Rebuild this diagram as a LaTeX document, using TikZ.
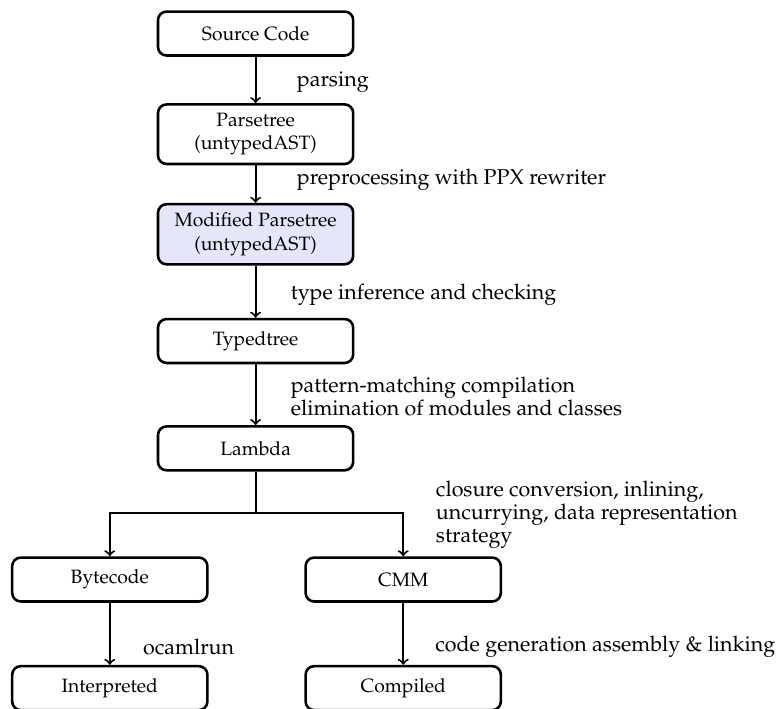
\documentclass[tikz,border=0pt]{standalone}
\usepackage[T1]{fontenc}
\usepackage{mathpazo}
\usepackage{tikz}
\usetikzlibrary{arrows, positioning, calc}
\definecolor{paleblue}{RGB}{230, 230, 250}
\tikzset{
  stage/.style={rectangle, draw=black, fill=#1, rounded corners=4pt, minimum width=3.2cm, minimum height=0.72cm, font=\small, align=center, very thick, inner ysep=4pt},
  stage/.default=white,
  passlabel/.style={anchor=west, align=left, inner sep=0pt, font=\fontsize{10}{10.8}\selectfont},
  trunk/.style={line width=0.9pt},
  flow/.style={->, trunk},
}

\begin{document}
\begin{tikzpicture}
\useasboundingbox (0,0) rectangle (12.77,-11.61);

% Compiler stages
\node[stage] (src) at (4.19,-0.55) {Source Code};
\node[stage] (parse) at (4.19,-2.20) {Parsetree\\(untypedAST)};
\node[stage=paleblue] (mod) at (4.19,-3.84) {Modified Parsetree\\(untypedAST)};
\node[stage] (typed) at (4.19,-5.59) {Typedtree};
\node[stage] (lambda) at (4.19,-7.35) {Lambda};
\node[stage] (byte) at (1.80,-9.50) {Bytecode};
\node[stage] (cmm) at (6.61,-9.50) {CMM};
\node[stage] (interp) at (1.80,-11.28) {Interpreted};
\node[stage] (comp) at (6.61,-11.28) {Compiled};

% Passes
\node[passlabel] (l1) at (4.86,-1.34) {parsing};
\node[passlabel] (l2) at (4.86,-2.95) {preprocessing with PPX rewriter};
\node[passlabel] (l3) at (4.76,-4.84) {type inference and checking};
\node[passlabel] (l4) at (4.76,-6.50) {pattern-matching compilation\\elimination of modules and classes};
\node[passlabel] (l5) at (7.14,-8.44) {closure conversion, inlining,\\uncurrying, data representation\\strategy};
\node[passlabel] (l6) at (2.34,-10.61) {ocamlrun};
\node[passlabel] (l7) at (7.13,-10.61) {code generation assembly \& linking};

% Connectors
\draw[flow] (src) -- (parse);
\draw[flow] (parse) -- (mod);
\draw[flow] (mod) -- (typed);
\draw[flow] (typed) -- (lambda);
\coordinate (split) at (4.19,-8.41);
\draw[trunk] (lambda) -- (split);
\draw[flow] (split) -| (byte);
\draw[flow] (split) -| (cmm);
\draw[flow] (byte) -- (interp);
\draw[flow] (cmm) -- (comp);
\end{tikzpicture}
\end{document}
